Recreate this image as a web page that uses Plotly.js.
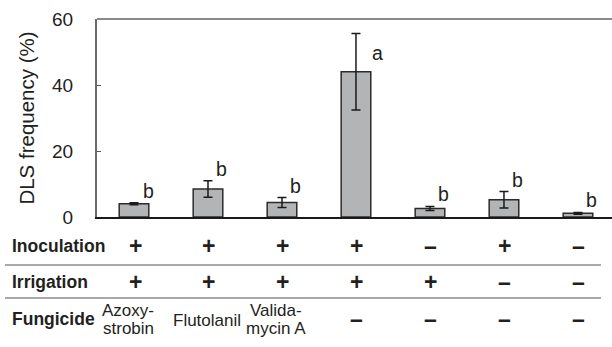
<!DOCTYPE html>
<html>
<head>
<meta charset="utf-8">
<script src="https://cdn.plot.ly/plotly-3.0.1.min.js"></script>
<style>html,body{margin:0;padding:0;background:#fff;}#chart{width:612px;height:347px;}</style>
</head>
<body>
<div id="chart"></div>
<script>
// ---- data ----
const categories = [0, 1, 2, 3, 4, 5, 6];
const dlsMean = [4.0, 8.5, 4.4, 44.0, 2.6, 5.2, 1.1];
const dlsErr = [0.3, 2.5, 1.5, 11.6, 0.6, 2.5, 0.3];
const sigLetters = ['b', 'b', 'b', 'a', 'b', 'b', 'b'];
const inoculation = ['+', '+', '+', '+', '–', '+', '–'];
const irrigation = ['+', '+', '+', '+', '+', '–', '–'];
const fungicide = ['Azoxy-<br>strobin', 'Flutolanil', 'Valida-<br>mycin A', '–', '–', '–', '–'];
const rowLabels = ['Inoculation', 'Irrigation', 'Fungicide'];
const yTicks = [0, 20, 40, 60];

const FONT = 'Liberation Sans, Arial, sans-serif';
const TXT = '#231f20';
const plotTopPx = 19, plotBotPx = 217, plotH = plotBotPx - plotTopPx;
const plotLeftPx = 97, plotW = 515;
const py = p => (plotBotPx - p) / plotH;     // pixel row -> paper y
const px = p => (p - plotLeftPx) / plotW;    // pixel col -> paper x

const trace = {
  type: 'bar',
  x: categories,
  y: dlsMean,
  width: 0.4,
  marker: {color: '#b3b4b6', line: {color: '#2b2b2b', width: 1.5}},
  error_y: {type: 'data', array: dlsErr, visible: true, color: '#1a1a1a', thickness: 1.5, width: 4.5},
  hoverinfo: 'skip'
};

const annotations = [];
// significance letters
categories.forEach((c, i) => {
  const isA = sigLetters[i] === 'a';
  annotations.push({
    x: c, y: isA ? dlsMean[i] : dlsMean[i] + dlsErr[i],
    xref: 'x', yref: 'y', text: sigLetters[i], showarrow: false,
    xanchor: 'center', yanchor: 'middle',
    xshift: isA ? 22 : 14, yshift: isA ? 19 : 12,
    font: {family: FONT, size: 19.5, color: TXT}
  });
});
// table row labels
const rowY = [246, 281.5, 319];
rowLabels.forEach((t, r) => {
  annotations.push({
    x: px(10), y: py(rowY[r]), xref: 'paper', yref: 'paper', text: '<b>' + t + '</b>',
    showarrow: false, xanchor: 'left', yanchor: 'middle',
    font: {family: FONT, size: 17.5, color: TXT}
  });
});
// symbol rows
[inoculation, irrigation].forEach((row, r) => {
  row.forEach((s, i) => {
    annotations.push({
      x: categories[i], y: py(rowY[r]), xref: 'x', yref: 'paper', text: '<b>' + s + '</b>',
      showarrow: false, xanchor: 'center', yanchor: 'middle', xshift: 1,
      font: {family: FONT, size: 23, color: TXT}
    });
  });
});
fungicide.forEach((s, i) => {
  const lines = s.split('<br>');
  if (lines.length === 1 && s === '–') {
    annotations.push({
      x: categories[i], y: py(rowY[2]), xref: 'x', yref: 'paper', text: '<b>' + s + '</b>',
      showarrow: false, xanchor: 'center', yanchor: 'middle', xshift: 1,
      font: {family: FONT, size: 23, color: TXT}
    });
  } else {
    lines.forEach((ln, k) => {
      const cy = lines.length === 1 ? rowY[2] + 1 : rowY[2] - 9 + 18 * k;
      annotations.push({
        x: categories[i], y: py(cy), xref: 'x', yref: 'paper', text: ln,
        showarrow: false, xanchor: 'center', yanchor: 'middle', xshift: lines.length === 1 ? -1 : -6,
        font: {family: FONT, size: 17, color: TXT}
      });
    });
  }
});

const shapes = [
  {type: 'line', xref: 'paper', yref: 'paper', x0: 0, x1: 1, y0: 1, y1: 1, line: {color: '#8a8a8a', width: 2}},
  {type: 'line', xref: 'paper', yref: 'paper', x0: px(5), x1: px(601), y0: py(265), y1: py(265), line: {color: '#555', width: 1.2}},
  {type: 'line', xref: 'paper', yref: 'paper', x0: px(5), x1: px(601), y0: py(298), y1: py(298), line: {color: '#555', width: 1.2}}
];

const layout = {
  width: 612, height: 347,
  margin: {l: plotLeftPx, r: 0, t: plotTopPx, b: 347 - plotBotPx, pad: 0},
  paper_bgcolor: '#fff', plot_bgcolor: '#fff',
  showlegend: false,
  font: {family: FONT, color: TXT},
  xaxis: {
    range: [-0.5, 6.46], showticklabels: false, ticks: '', showgrid: false, zeroline: false,
    showline: true, linecolor: '#1a1a1a', linewidth: 1.5, fixedrange: true
  },
  yaxis: {
    range: [0, 60], tickvals: yTicks, ticktext: yTicks.map(String),
    ticks: 'inside', ticklen: 4, tickcolor: '#555', tickwidth: 1,
    showline: true, linecolor: '#6a6a6a', linewidth: 2, showgrid: false, zeroline: false,
    tickfont: {family: FONT, size: 19, color: TXT},
    ticklabelstandoff: 18,
    title: {text: 'DLS frequency (%)', font: {family: FONT, size: 20.5, color: TXT}, standoff: 12},
    fixedrange: true
  },
  annotations: annotations,
  shapes: shapes
};

Plotly.newPlot('chart', [trace], layout, {staticPlot: true, displayModeBar: false});
</script>
</body>
</html>
